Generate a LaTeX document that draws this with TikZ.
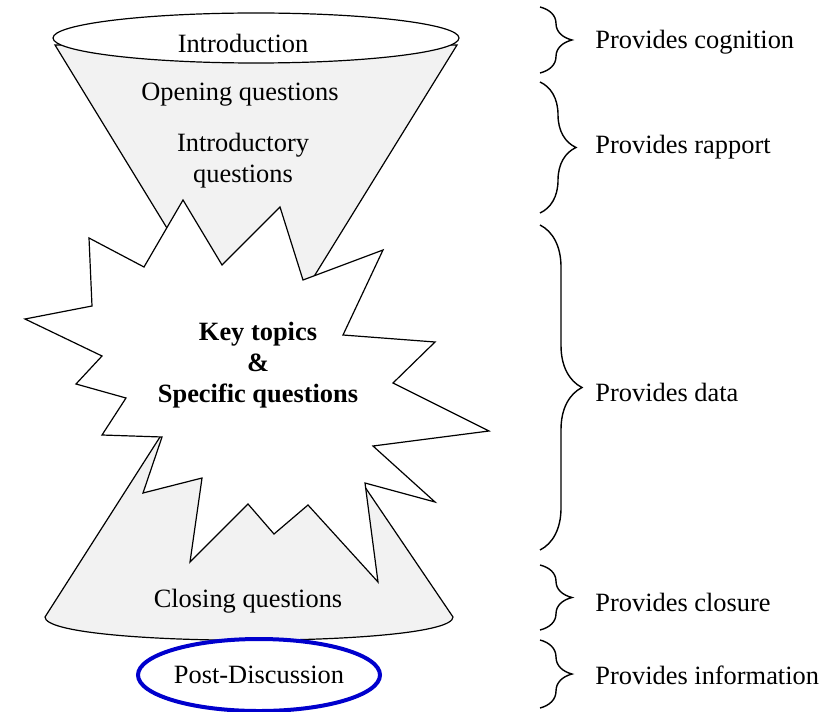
\documentclass[tikz,border=0pt]{standalone}
\usepackage{fontspec}
\setmainfont{Liberation Serif}
\usetikzlibrary{shapes.geometric,decorations.pathreplacing}
\definecolor{conegray}{gray}{0.95}
\definecolor{postblue}{RGB}{0,0,205}
\begin{document}
\begin{tikzpicture}[x=0.5pt,y=-0.5pt,
    txt/.style={font=\fontsize{13.2}{15.5}\selectfont,align=center,inner sep=0pt},
    lbl/.style={txt,anchor=west},
    cone/.style={fill=conegray,draw=black,line width=0.6pt,line join=miter},
    brc/.style={decorate,decoration={brace,amplitude=#1},line width=0.7pt},
    brc/.default=16pt]
   \useasboundingbox (0,0) rectangle (838,711);
   \filldraw[cone] (243,307) -- (45,617) .. controls (45,648) and (453,648) .. (453,617) -- cycle;
   \filldraw[cone] (55,45) -- (255,372) -- (457,45) -- cycle;
   \filldraw[fill=white,line width=0.6pt] (256,38) ellipse [x radius=203,y radius=25];
   \filldraw[fill=white,line width=0.6pt,line join=miter] (183,200) -- (222,265) -- (280,207)
      -- (303,280) -- (383,250) -- (343,335) -- (435,342) -- (393,383) -- (489,431)
      -- (373,446) -- (435,502) -- (365,483) -- (378,582) -- (308,505) -- (274,534)
      -- (248,504) -- (190,562) -- (202,478) -- (143,493) -- (162,437) -- (102,435)
      -- (126,398) -- (76,384) -- (102,356) -- (25,319) -- (92,306) -- (89,238)
      -- (144,267) -- cycle;
   \node[txt] (intro) at (243,43) {Introduction};
   \node[txt] (opening) at (240,95) {Opening questions};
   \node[txt] (introq) at (243,161) {Introductory\\questions};
   \node[txt,font=\fontsize{13.2}{15.5}\selectfont\bfseries] (key) at (258,365) {Key topics\\\&\\Specific questions};
   \node[txt] (closing) at (248,601) {Closing questions};
   \node[txt,ellipse,draw=postblue,line width=2pt,minimum width=121pt,minimum height=36pt] (post) at (259,675) {Post-Discussion};
   \coordinate (cogtop) at (540,7);    \coordinate (cogbot) at (540,73);
   \coordinate (raptop) at (540,82);   \coordinate (rapbot) at (540,213);
   \coordinate (datatop) at (540,225); \coordinate (databot) at (540,550);
   \coordinate (clotop) at (540,565);  \coordinate (clobot) at (540,630);
   \coordinate (infotop) at (540,640); \coordinate (infobot) at (540,708);
   \draw[brc] (cogtop) -- (cogbot);
   \draw[brc=18pt] (raptop) -- (rapbot);
   \draw[brc=21pt] (datatop) -- (databot);
   \draw[brc] (clotop) -- (clobot);
   \draw[brc] (infotop) -- (infobot);
   \node[lbl] (cog) at (595,42) {Provides cognition};
   \node[lbl] (rap) at (595,147) {Provides rapport};
   \node[lbl] (data) at (595,392) {Provides data};
   \node[lbl] (clo) at (595,602) {Provides closure};
   \node[lbl] (info) at (595,675) {Provides information};
\end{tikzpicture}
\end{document}
